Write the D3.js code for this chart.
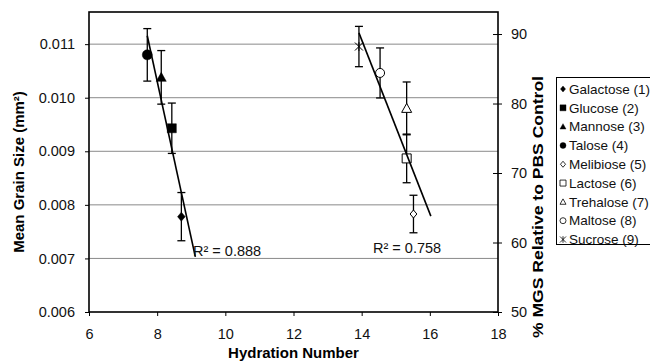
<!DOCTYPE html>
<html><head><meta charset="utf-8">
<script src="https://cdn.jsdelivr.net/npm/d3@7"></script>
<style>body{margin:0;background:#fff}svg{display:block}text{font-family:"Liberation Sans",Arial,sans-serif}</style>
</head><body><svg id="c" width="650" height="362"></svg>
<script>
// ---- data ----
const monoNames = ["Galactose (1)", "Glucose (2)", "Mannose (3)", "Talose (4)"];
const monoHydration = [8.71, 8.43, 8.12, 7.71];
const monoMGS = [0.00778, 0.00943, 0.01038, 0.01080];
const monoErr = [0.00045, 0.00047, 0.00050, 0.00049];
const monoSymbols = ["diamond", "square", "triangle", "circle"];

const diNames = ["Melibiose (5)", "Lactose (6)", "Trehalose (7)", "Maltose (8)", "Sucrose (9)"];
const diHydration = [15.52, 15.32, 15.32, 14.54, 13.92];
const diPct = [64.1, 72.1, 79.3, 84.4, 88.2];
const diErr = [2.7, 3.5, 3.8, 3.6, 2.9];
const diSymbols = ["diamond", "square", "triangle", "circle", "star"];

const trendSpan1 = [7.71, 9.12];
const trendSpan2 = [13.92, 16.03];
const r2Labels = ["R\u00B2 = 0.888", "R\u00B2 = 0.758"];

const xTicks = [6, 8, 10, 12, 14, 16, 18];
const yLeftTicks = [0.006, 0.007, 0.008, 0.009, 0.010, 0.011];
const yRightTicks = [50, 60, 70, 80, 90];

// ---- layout ----
const L = 89, R = 498, T = 12, B = 312;
const svg = d3.select("#c");
const x = d3.scaleLinear().domain([6, 18]).range([L, R]);
const yL = d3.scaleLinear().domain([0.006, 0.0116]).range([B, T]);
const yR = d3.scaleLinear().domain([50, 93.17]).range([B, T]);

// gridlines
svg.append("g").selectAll("line").data(yLeftTicks.slice(1)).join("line")
  .attr("x1", L).attr("x2", R).attr("y1", d => yL(d)).attr("y2", d => yL(d))
  .attr("stroke", "#8a8a8a").attr("stroke-width", 1);

// axes
const fs = "14.5px";
const gx = svg.append("g").attr("transform", `translate(0,${B})`)
  .call(d3.axisBottom(x).tickValues(xTicks).tickSize(4).tickPadding(13));
const gl = svg.append("g").attr("transform", `translate(${L},0)`)
  .call(d3.axisLeft(yL).tickValues(yLeftTicks).tickFormat(d3.format(".3f")).tickSize(4).tickPadding(10));
const gr = svg.append("g").attr("transform", `translate(${R},0)`)
  .call(d3.axisRight(yR).tickValues(yRightTicks).tickSize(4).tickPadding(9));
gr.selectAll(".tick line").attr("x1", -5).attr("x2", 4);
[gx, gl, gr].forEach(g => {
  g.select(".domain").remove();
  g.selectAll(".tick line").attr("stroke", "#000");
  g.selectAll("text").attr("font-size", fs).attr("fill", "#111").attr("font-family", "Liberation Sans, Arial, sans-serif");
});
// frame
svg.append("rect").attr("x", L).attr("y", T).attr("width", R - L).attr("height", B - T)
  .attr("fill", "none").attr("stroke", "#000").attr("stroke-width", 1.6);

// titles
svg.append("text").attr("x", x(12)).attr("y", 358).attr("text-anchor", "middle")
  .attr("font-size", "15px").attr("font-weight", "bold").text("Hydration Number");
svg.append("text").attr("transform", `translate(24,${(T + B) / 2 + 10}) rotate(-90)`).attr("text-anchor", "middle")
  .attr("font-size", "15px").attr("font-weight", "bold").text("Mean Grain Size (mm\u00B2)");
svg.append("text").attr("transform", `translate(543,207) rotate(-90)`).attr("text-anchor", "middle")
  .attr("font-size", "15px").attr("font-weight", "bold")
  .attr("textLength", 262).attr("lengthAdjust", "spacingAndGlyphs")
  .text("% MGS Relative to PBS Control");

// symbol path generator
function sym(type, size, cx, cy) {
  const h = size / 2;
  switch (type) {
    case "diamond": return `M${cx},${cy - h}L${cx + h * 0.85},${cy}L${cx},${cy + h}L${cx - h * 0.85},${cy}Z`;
    case "square": return `M${cx - h},${cy - h}h${size}v${size}h${-size}Z`;
    case "triangle": return `M${cx},${cy - h}L${cx + h},${cy + h * 0.8}L${cx - h},${cy + h * 0.8}Z`;
    case "circle": return `M${cx - h},${cy}a${h},${h} 0 1,0 ${size},0a${h},${h} 0 1,0 ${-size},0Z`;
    case "star": return `M${cx - h},${cy - h}L${cx + h},${cy + h}M${cx + h},${cy - h}L${cx - h},${cy + h}M${cx},${cy - h * 1.1}L${cx},${cy + h * 1.1}`;
  }
}

// error bars
function errBars(xs, vs, es, ys) {
  const g = svg.append("g").attr("stroke", "#000").attr("stroke-width", 1.3).attr("fill", "none");
  xs.forEach((xv, i) => {
    const px = x(xv), y1 = ys(vs[i] + es[i]), y2 = ys(vs[i] - es[i]);
    g.append("line").attr("x1", px).attr("x2", px).attr("y1", y1).attr("y2", y2);
    g.append("line").attr("x1", px - 4).attr("x2", px + 4).attr("y1", y1).attr("y2", y1);
    g.append("line").attr("x1", px - 4).attr("x2", px + 4).attr("y1", y2).attr("y2", y2);
  });
}
errBars(monoHydration, monoMGS, monoErr, yL);
errBars(diHydration, diPct, diErr, yR);

// markers
const monoSize = {diamond: 9, square: 9, triangle: 10, circle: 10};
monoHydration.forEach((xv, i) => {
  svg.append("path").attr("d", sym(monoSymbols[i], monoSize[monoSymbols[i]], x(xv), yL(monoMGS[i])))
    .attr("fill", "#000").attr("stroke", "#000").attr("stroke-width", 0.5);
});
const diSize = {diamond: 8, square: 9, triangle: 10, circle: 9, star: 8};
diHydration.forEach((xv, i) => {
  svg.append("path").attr("d", sym(diSymbols[i], diSize[diSymbols[i]], x(xv), yR(diPct[i])))
    .attr("fill", diSymbols[i] === "star" ? "none" : "#fff").attr("stroke", "#000").attr("stroke-width", 1);
});

// trendlines (least squares)
function fit(xs, ys) {
  const mx = d3.mean(xs), my = d3.mean(ys);
  const sxy = d3.sum(xs, (v, i) => (v - mx) * (ys[i] - my));
  const sxx = d3.sum(xs, v => (v - mx) ** 2);
  const b = sxy / sxx;
  return v => my + b * (v - mx);
}
const f1 = fit(monoHydration, monoMGS), f2 = fit(diHydration, diPct);
svg.append("line").attr("x1", x(trendSpan1[0])).attr("y1", yL(f1(trendSpan1[0])))
  .attr("x2", x(trendSpan1[1])).attr("y2", yL(f1(trendSpan1[1]))).attr("stroke", "#000").attr("stroke-width", 1.6);
svg.append("line").attr("x1", x(trendSpan2[0])).attr("y1", yR(f2(trendSpan2[0])))
  .attr("x2", x(trendSpan2[1])).attr("y2", yR(f2(trendSpan2[1]))).attr("stroke", "#000").attr("stroke-width", 1.6);

svg.append("text").attr("x", 193).attr("y", 255.5).attr("font-size", "14.5px").attr("fill", "#111").text(r2Labels[0]);
svg.append("text").attr("x", 373).attr("y", 253).attr("font-size", "14.5px").attr("fill", "#111").text(r2Labels[1]);

// legend
const lg = svg.append("g");
lg.append("rect").attr("x", 556.5).attr("y", 77.5).attr("width", 110).attr("height", 167)
  .attr("fill", "#fff").attr("stroke", "#000").attr("stroke-width", 1);
const legNames = monoNames.concat(diNames);
const legSyms = monoSymbols.concat(diSymbols);
const legFilled = monoNames.map(() => true).concat(diNames.map(() => false));
const legY = d3.scalePoint().domain(legNames).range([89, 239.5]);
legNames.forEach((n, i) => {
  const cy = legY(n);
  lg.append("path").attr("d", sym(legSyms[i], 6, 563, cy))
    .attr("fill", legFilled[i] ? "#000" : (legSyms[i] === "star" ? "none" : "#fff"))
    .attr("stroke", "#000").attr("stroke-width", legFilled[i] ? 0.4 : 0.8);
  lg.append("text").attr("x", 569).attr("y", cy).attr("dy", "0.35em").attr("font-size", "13.5px")
    .attr("fill", "#111").text(n);
});
</script></body></html>
